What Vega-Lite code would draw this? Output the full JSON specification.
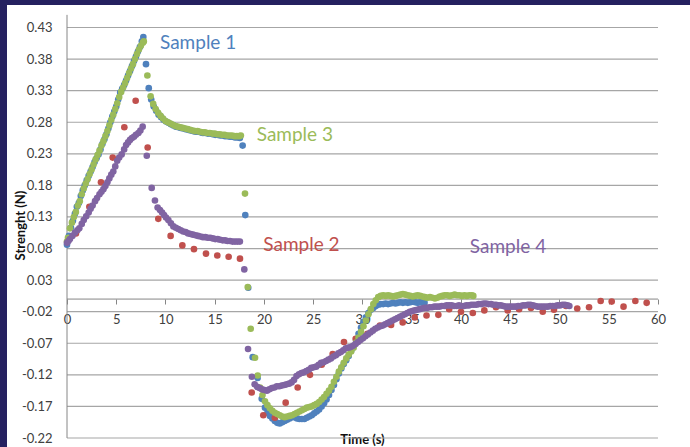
{
  "$schema": "https://vega.github.io/schema/vega-lite/v6.json",
  "width": 683,
  "height": 442,
  "autosize": {"type": "none"},
  "padding": {"left": 7, "top": 5, "right": 0, "bottom": 0},
  "background": "#252160",
  "view": {"fill": "white", "stroke": null},
  "config": {"font": "Lato", "axis": {"labelOverlap": false, "labelFlush": false}},
  "resolve": {"axis": {"x": "independent", "y": "independent"}},
  "datasets": {
    "pts": [
      {"s":1,"x":0.0,"y":0.086},{"s":1,"x":0.2,"y":0.100},{"s":1,"x":0.4,"y":0.113},{"s":1,"x":0.6,"y":0.124},{"s":1,"x":0.8,"y":0.135},
      {"s":1,"x":1.0,"y":0.146},{"s":1,"x":1.2,"y":0.152},{"s":1,"x":1.4,"y":0.163},{"s":1,"x":1.6,"y":0.172},{"s":1,"x":1.8,"y":0.180},
      {"s":1,"x":2.0,"y":0.188},{"s":1,"x":2.2,"y":0.195},{"s":1,"x":2.4,"y":0.202},{"s":1,"x":2.6,"y":0.209},{"s":1,"x":2.8,"y":0.217},
      {"s":1,"x":3.0,"y":0.223},{"s":1,"x":3.2,"y":0.229},{"s":1,"x":3.4,"y":0.237},{"s":1,"x":3.6,"y":0.246},{"s":1,"x":3.8,"y":0.253},
      {"s":1,"x":4.0,"y":0.261},{"s":1,"x":4.2,"y":0.270},{"s":1,"x":4.4,"y":0.280},{"s":1,"x":4.6,"y":0.289},{"s":1,"x":4.8,"y":0.297},
      {"s":1,"x":5.0,"y":0.305},{"s":1,"x":5.2,"y":0.316},{"s":1,"x":5.4,"y":0.327},{"s":1,"x":5.6,"y":0.333},{"s":1,"x":5.8,"y":0.339},
      {"s":1,"x":6.0,"y":0.346},{"s":1,"x":6.2,"y":0.354},{"s":1,"x":6.4,"y":0.361},{"s":1,"x":6.6,"y":0.369},{"s":1,"x":6.8,"y":0.377},
      {"s":1,"x":7.0,"y":0.384},{"s":1,"x":7.2,"y":0.392},{"s":1,"x":7.4,"y":0.399},{"s":1,"x":7.6,"y":0.408},{"s":1,"x":7.75,"y":0.415},
      {"s":1,"x":8.02,"y":0.372},{"s":1,"x":8.3,"y":0.334},{"s":1,"x":8.55,"y":0.316},{"s":1,"x":8.8,"y":0.305},{"s":1,"x":9.05,"y":0.298},
      {"s":1,"x":9.3,"y":0.292},{"s":1,"x":9.55,"y":0.288},{"s":1,"x":9.8,"y":0.284},{"s":1,"x":10.05,"y":0.281},{"s":1,"x":10.3,"y":0.279},
      {"s":1,"x":10.55,"y":0.277},{"s":1,"x":10.8,"y":0.275},{"s":1,"x":11.05,"y":0.273},{"s":1,"x":11.3,"y":0.272},{"s":1,"x":11.55,"y":0.271},
      {"s":1,"x":11.8,"y":0.270},{"s":1,"x":12.05,"y":0.269},{"s":1,"x":12.3,"y":0.268},{"s":1,"x":12.55,"y":0.267},{"s":1,"x":12.8,"y":0.266},
      {"s":1,"x":13.05,"y":0.265},{"s":1,"x":13.3,"y":0.265},{"s":1,"x":13.55,"y":0.264},{"s":1,"x":13.8,"y":0.263},{"s":1,"x":14.05,"y":0.263},
      {"s":1,"x":14.3,"y":0.262},{"s":1,"x":14.55,"y":0.262},{"s":1,"x":14.8,"y":0.261},{"s":1,"x":15.05,"y":0.260},{"s":1,"x":15.3,"y":0.260},
      {"s":1,"x":15.55,"y":0.259},{"s":1,"x":15.8,"y":0.259},{"s":1,"x":16.05,"y":0.258},{"s":1,"x":16.3,"y":0.258},{"s":1,"x":16.55,"y":0.257},
      {"s":1,"x":16.8,"y":0.257},{"s":1,"x":17.05,"y":0.256},{"s":1,"x":17.3,"y":0.256},{"s":1,"x":17.55,"y":0.255},{"s":1,"x":17.83,"y":0.243},
      {"s":1,"x":18.1,"y":0.133},{"s":1,"x":18.4,"y":0.018},{"s":1,"x":18.85,"y":-0.092},{"s":1,"x":19.35,"y":-0.125},{"s":1,"x":19.77,"y":-0.158},
      {"s":1,"x":20.1,"y":-0.172},{"s":1,"x":20.35,"y":-0.180},{"s":1,"x":20.6,"y":-0.185},{"s":1,"x":20.85,"y":-0.189},{"s":1,"x":21.1,"y":-0.193},
      {"s":1,"x":21.35,"y":-0.196},{"s":1,"x":21.6,"y":-0.197},{"s":1,"x":21.85,"y":-0.195},{"s":1,"x":22.1,"y":-0.193},{"s":1,"x":22.35,"y":-0.191},
      {"s":1,"x":22.6,"y":-0.189},{"s":1,"x":22.85,"y":-0.187},{"s":1,"x":23.1,"y":-0.187},{"s":1,"x":23.35,"y":-0.189},{"s":1,"x":23.6,"y":-0.190},
      {"s":1,"x":23.85,"y":-0.190},{"s":1,"x":24.1,"y":-0.190},{"s":1,"x":24.35,"y":-0.188},{"s":1,"x":24.6,"y":-0.186},{"s":1,"x":24.85,"y":-0.184},
      {"s":1,"x":25.1,"y":-0.181},{"s":1,"x":25.35,"y":-0.178},{"s":1,"x":25.6,"y":-0.175},{"s":1,"x":25.85,"y":-0.170},{"s":1,"x":26.1,"y":-0.165},
      {"s":1,"x":26.35,"y":-0.159},{"s":1,"x":26.6,"y":-0.152},{"s":1,"x":26.85,"y":-0.144},{"s":1,"x":27.1,"y":-0.136},{"s":1,"x":27.35,"y":-0.127},
      {"s":1,"x":27.6,"y":-0.118},{"s":1,"x":27.85,"y":-0.110},{"s":1,"x":28.1,"y":-0.103},{"s":1,"x":28.35,"y":-0.097},{"s":1,"x":28.6,"y":-0.090},
      {"s":1,"x":28.85,"y":-0.082},{"s":1,"x":29.1,"y":-0.074},{"s":1,"x":29.35,"y":-0.065},{"s":1,"x":29.6,"y":-0.055},{"s":1,"x":29.85,"y":-0.045},
      {"s":1,"x":30.1,"y":-0.036},{"s":1,"x":30.35,"y":-0.029},{"s":1,"x":30.6,"y":-0.022},{"s":1,"x":30.85,"y":-0.017},{"s":1,"x":31.1,"y":-0.014},
      {"s":1,"x":31.35,"y":-0.011},{"s":1,"x":31.6,"y":-0.009},{"s":1,"x":31.85,"y":-0.008},{"s":1,"x":32.1,"y":-0.008},{"s":1,"x":32.35,"y":-0.007},
      {"s":1,"x":32.6,"y":-0.008},{"s":1,"x":32.85,"y":-0.007},{"s":1,"x":33.1,"y":-0.006},{"s":1,"x":33.35,"y":-0.007},{"s":1,"x":33.6,"y":-0.006},
      {"s":1,"x":33.85,"y":-0.005},{"s":1,"x":34.1,"y":-0.006},{"s":1,"x":34.35,"y":-0.005},{"s":1,"x":34.6,"y":-0.006},{"s":1,"x":34.85,"y":-0.005},
      {"s":1,"x":35.1,"y":-0.004},{"s":1,"x":35.35,"y":-0.005},{"s":1,"x":35.6,"y":-0.006},{"s":1,"x":35.85,"y":-0.005},{"s":1,"x":36.1,"y":-0.006},
      {"s":1,"x":36.3,"y":-0.006},

      {"s":2,"x":0.91,"y":0.104},{"s":2,"x":2.27,"y":0.146},{"s":2,"x":3.45,"y":0.185},{"s":2,"x":4.64,"y":0.224},{"s":2,"x":5.82,"y":0.272},
      {"s":2,"x":6.97,"y":0.314},{"s":2,"x":8.19,"y":0.240},{"s":2,"x":9.27,"y":0.127},{"s":2,"x":10.52,"y":0.100},{"s":2,"x":11.71,"y":0.085},
      {"s":2,"x":12.89,"y":0.079},{"s":2,"x":14.11,"y":0.072},{"s":2,"x":15.26,"y":0.069},{"s":2,"x":16.41,"y":0.067},{"s":2,"x":17.56,"y":0.064},
      {"s":2,"x":18.75,"y":-0.148},{"s":2,"x":19.93,"y":-0.184},{"s":2,"x":21.1,"y":-0.188},{"s":2,"x":22.2,"y":-0.164},{"s":2,"x":23.42,"y":-0.140},
      {"s":2,"x":24.67,"y":-0.120},{"s":2,"x":25.86,"y":-0.104},{"s":2,"x":26.97,"y":-0.087},{"s":2,"x":28.12,"y":-0.068},{"s":2,"x":29.31,"y":-0.063},
      {"s":2,"x":30.5,"y":-0.055},{"s":2,"x":31.77,"y":-0.042},{"s":2,"x":32.9,"y":-0.041},{"s":2,"x":34.08,"y":-0.037},{"s":2,"x":35.3,"y":-0.029},
      {"s":2,"x":36.5,"y":-0.026},{"s":2,"x":37.7,"y":-0.025},{"s":2,"x":38.8,"y":-0.016},{"s":2,"x":40.0,"y":-0.020},{"s":2,"x":41.2,"y":-0.022},
      {"s":2,"x":42.37,"y":-0.018},{"s":2,"x":43.55,"y":-0.013},{"s":2,"x":44.74,"y":-0.018},{"s":2,"x":45.9,"y":-0.016},{"s":2,"x":47.1,"y":-0.014},
      {"s":2,"x":48.3,"y":-0.020},{"s":2,"x":49.44,"y":-0.017},{"s":2,"x":50.66,"y":-0.011},{"s":2,"x":51.8,"y":-0.015},{"s":2,"x":53.0,"y":-0.013},
      {"s":2,"x":54.18,"y":-0.003},{"s":2,"x":55.3,"y":-0.004},{"s":2,"x":56.5,"y":-0.012},{"s":2,"x":57.7,"y":-0.003},{"s":2,"x":58.85,"y":-0.006},

      {"s":3,"x":0.0,"y":0.091},{"s":3,"x":0.1,"y":0.097},{"s":3,"x":0.3,"y":0.112},{"s":3,"x":0.5,"y":0.121},{"s":3,"x":0.7,"y":0.130},
      {"s":3,"x":0.9,"y":0.138},{"s":3,"x":1.1,"y":0.148},{"s":3,"x":1.3,"y":0.155},{"s":3,"x":1.5,"y":0.166},{"s":3,"x":1.7,"y":0.175},
      {"s":3,"x":1.9,"y":0.183},{"s":3,"x":2.1,"y":0.190},{"s":3,"x":2.3,"y":0.198},{"s":3,"x":2.5,"y":0.205},{"s":3,"x":2.7,"y":0.213},
      {"s":3,"x":2.9,"y":0.221},{"s":3,"x":3.1,"y":0.228},{"s":3,"x":3.3,"y":0.235},{"s":3,"x":3.5,"y":0.243},{"s":3,"x":3.7,"y":0.250},
      {"s":3,"x":3.9,"y":0.258},{"s":3,"x":4.1,"y":0.266},{"s":3,"x":4.3,"y":0.275},{"s":3,"x":4.5,"y":0.284},{"s":3,"x":4.7,"y":0.292},
      {"s":3,"x":4.9,"y":0.301},{"s":3,"x":5.1,"y":0.310},{"s":3,"x":5.3,"y":0.320},{"s":3,"x":5.5,"y":0.328},{"s":3,"x":5.7,"y":0.335},
      {"s":3,"x":5.9,"y":0.342},{"s":3,"x":6.1,"y":0.350},{"s":3,"x":6.3,"y":0.358},{"s":3,"x":6.5,"y":0.365},{"s":3,"x":6.7,"y":0.372},
      {"s":3,"x":6.9,"y":0.380},{"s":3,"x":7.1,"y":0.388},{"s":3,"x":7.3,"y":0.395},{"s":3,"x":7.5,"y":0.401},{"s":3,"x":7.7,"y":0.406},
      {"s":3,"x":7.8,"y":0.408},{"s":3,"x":8.16,"y":0.354},{"s":3,"x":8.49,"y":0.321},{"s":3,"x":8.75,"y":0.309},{"s":3,"x":9.0,"y":0.301},
      {"s":3,"x":9.25,"y":0.295},{"s":3,"x":9.5,"y":0.290},{"s":3,"x":9.75,"y":0.286},{"s":3,"x":10.0,"y":0.282},{"s":3,"x":10.25,"y":0.280},
      {"s":3,"x":10.5,"y":0.278},{"s":3,"x":10.75,"y":0.276},{"s":3,"x":11.0,"y":0.274},{"s":3,"x":11.25,"y":0.273},{"s":3,"x":11.5,"y":0.272},
      {"s":3,"x":11.75,"y":0.271},{"s":3,"x":12.0,"y":0.270},{"s":3,"x":12.25,"y":0.269},{"s":3,"x":12.5,"y":0.268},{"s":3,"x":12.75,"y":0.267},
      {"s":3,"x":13.0,"y":0.266},{"s":3,"x":13.25,"y":0.266},{"s":3,"x":13.5,"y":0.265},{"s":3,"x":13.75,"y":0.264},{"s":3,"x":14.0,"y":0.264},
      {"s":3,"x":14.25,"y":0.263},{"s":3,"x":14.5,"y":0.263},{"s":3,"x":14.75,"y":0.262},{"s":3,"x":15.0,"y":0.262},{"s":3,"x":15.25,"y":0.261},
      {"s":3,"x":15.5,"y":0.261},{"s":3,"x":15.75,"y":0.260},{"s":3,"x":16.0,"y":0.260},{"s":3,"x":16.25,"y":0.259},{"s":3,"x":16.5,"y":0.259},
      {"s":3,"x":16.75,"y":0.259},{"s":3,"x":17.0,"y":0.258},{"s":3,"x":17.25,"y":0.258},{"s":3,"x":17.5,"y":0.258},{"s":3,"x":17.65,"y":0.259},
      {"s":3,"x":18.07,"y":0.167},{"s":3,"x":18.35,"y":0.019},{"s":3,"x":18.65,"y":-0.047},{"s":3,"x":19.09,"y":-0.093},{"s":3,"x":19.36,"y":-0.121},
      {"s":3,"x":19.6,"y":-0.140},{"s":3,"x":19.85,"y":-0.152},{"s":3,"x":20.1,"y":-0.162},{"s":3,"x":20.35,"y":-0.168},{"s":3,"x":20.6,"y":-0.173},
      {"s":3,"x":20.85,"y":-0.177},{"s":3,"x":21.1,"y":-0.180},{"s":3,"x":21.35,"y":-0.182},{"s":3,"x":21.6,"y":-0.184},{"s":3,"x":21.85,"y":-0.186},
      {"s":3,"x":22.1,"y":-0.187},{"s":3,"x":22.35,"y":-0.186},{"s":3,"x":22.6,"y":-0.185},{"s":3,"x":22.85,"y":-0.184},{"s":3,"x":23.1,"y":-0.182},
      {"s":3,"x":23.35,"y":-0.180},{"s":3,"x":23.6,"y":-0.178},{"s":3,"x":23.85,"y":-0.176},{"s":3,"x":24.1,"y":-0.174},{"s":3,"x":24.35,"y":-0.172},
      {"s":3,"x":24.6,"y":-0.171},{"s":3,"x":24.85,"y":-0.170},{"s":3,"x":25.1,"y":-0.168},{"s":3,"x":25.35,"y":-0.166},{"s":3,"x":25.6,"y":-0.163},
      {"s":3,"x":25.85,"y":-0.159},{"s":3,"x":26.1,"y":-0.155},{"s":3,"x":26.35,"y":-0.150},{"s":3,"x":26.6,"y":-0.145},{"s":3,"x":26.85,"y":-0.139},
      {"s":3,"x":27.1,"y":-0.131},{"s":3,"x":27.35,"y":-0.123},{"s":3,"x":27.6,"y":-0.115},{"s":3,"x":27.85,"y":-0.108},{"s":3,"x":28.1,"y":-0.101},
      {"s":3,"x":28.35,"y":-0.094},{"s":3,"x":28.6,"y":-0.088},{"s":3,"x":28.85,"y":-0.083},{"s":3,"x":29.1,"y":-0.077},{"s":3,"x":29.35,"y":-0.069},
      {"s":3,"x":29.6,"y":-0.061},{"s":3,"x":29.85,"y":-0.052},{"s":3,"x":30.1,"y":-0.043},{"s":3,"x":30.35,"y":-0.034},{"s":3,"x":30.6,"y":-0.024},
      {"s":3,"x":30.85,"y":-0.016},{"s":3,"x":31.1,"y":-0.008},{"s":3,"x":31.35,"y":-0.002},{"s":3,"x":31.6,"y":0.003},{"s":3,"x":31.85,"y":0.005},
      {"s":3,"x":32.1,"y":0.006},{"s":3,"x":32.35,"y":0.005},{"s":3,"x":32.6,"y":0.006},{"s":3,"x":32.85,"y":0.005},{"s":3,"x":33.1,"y":0.004},
      {"s":3,"x":33.35,"y":0.005},{"s":3,"x":33.6,"y":0.006},{"s":3,"x":33.85,"y":0.007},{"s":3,"x":34.1,"y":0.008},{"s":3,"x":34.35,"y":0.007},
      {"s":3,"x":34.6,"y":0.006},{"s":3,"x":34.85,"y":0.005},{"s":3,"x":35.1,"y":0.004},{"s":3,"x":35.35,"y":0.005},{"s":3,"x":35.6,"y":0.006},
      {"s":3,"x":35.85,"y":0.005},{"s":3,"x":36.1,"y":0.004},{"s":3,"x":36.35,"y":0.003},{"s":3,"x":36.6,"y":0.002},{"s":3,"x":36.85,"y":0.003},
      {"s":3,"x":37.1,"y":0.002},{"s":3,"x":37.35,"y":0.001},{"s":3,"x":37.6,"y":0.002},{"s":3,"x":37.85,"y":0.004},{"s":3,"x":38.1,"y":0.005},
      {"s":3,"x":38.35,"y":0.006},{"s":3,"x":38.6,"y":0.006},{"s":3,"x":38.85,"y":0.005},{"s":3,"x":39.1,"y":0.006},{"s":3,"x":39.35,"y":0.007},
      {"s":3,"x":39.6,"y":0.006},{"s":3,"x":39.85,"y":0.006},{"s":3,"x":40.1,"y":0.005},{"s":3,"x":40.35,"y":0.006},{"s":3,"x":40.6,"y":0.005},
      {"s":3,"x":40.85,"y":0.006},{"s":3,"x":41.1,"y":0.006},{"s":3,"x":41.25,"y":0.005},

      {"s":4,"x":0.0,"y":0.089},{"s":4,"x":0.15,"y":0.092},{"s":4,"x":0.3,"y":0.095},{"s":4,"x":0.55,"y":0.100},{"s":4,"x":0.8,"y":0.105},
      {"s":4,"x":1.05,"y":0.109},{"s":4,"x":1.25,"y":0.112},{"s":4,"x":1.5,"y":0.119},{"s":4,"x":1.7,"y":0.125},{"s":4,"x":1.95,"y":0.131},
      {"s":4,"x":2.2,"y":0.137},{"s":4,"x":2.4,"y":0.143},{"s":4,"x":2.6,"y":0.148},{"s":4,"x":2.85,"y":0.155},{"s":4,"x":3.05,"y":0.160},
      {"s":4,"x":3.3,"y":0.166},{"s":4,"x":3.5,"y":0.170},{"s":4,"x":3.7,"y":0.174},{"s":4,"x":3.9,"y":0.179},{"s":4,"x":4.1,"y":0.185},
      {"s":4,"x":4.3,"y":0.191},{"s":4,"x":4.5,"y":0.197},{"s":4,"x":4.7,"y":0.202},{"s":4,"x":4.9,"y":0.210},{"s":4,"x":5.1,"y":0.219},
      {"s":4,"x":5.3,"y":0.224},{"s":4,"x":5.55,"y":0.229},{"s":4,"x":5.8,"y":0.237},{"s":4,"x":6.0,"y":0.244},{"s":4,"x":6.2,"y":0.248},
      {"s":4,"x":6.4,"y":0.252},{"s":4,"x":6.6,"y":0.255},{"s":4,"x":6.8,"y":0.257},{"s":4,"x":7.0,"y":0.260},{"s":4,"x":7.25,"y":0.263},
      {"s":4,"x":7.45,"y":0.267},{"s":4,"x":7.68,"y":0.273},{"s":4,"x":8.1,"y":0.227},{"s":4,"x":8.6,"y":0.176},{"s":4,"x":8.93,"y":0.156},
      {"s":4,"x":9.2,"y":0.145},{"s":4,"x":9.44,"y":0.141},{"s":4,"x":9.65,"y":0.137},{"s":4,"x":9.85,"y":0.133},{"s":4,"x":10.05,"y":0.129},
      {"s":4,"x":10.29,"y":0.125},{"s":4,"x":10.55,"y":0.120},{"s":4,"x":10.8,"y":0.115},{"s":4,"x":11.05,"y":0.113},{"s":4,"x":11.3,"y":0.111},
      {"s":4,"x":11.55,"y":0.109},{"s":4,"x":11.8,"y":0.107},{"s":4,"x":12.05,"y":0.106},{"s":4,"x":12.3,"y":0.104},{"s":4,"x":12.55,"y":0.103},
      {"s":4,"x":12.8,"y":0.102},{"s":4,"x":13.05,"y":0.101},{"s":4,"x":13.3,"y":0.100},{"s":4,"x":13.55,"y":0.099},{"s":4,"x":13.8,"y":0.098},
      {"s":4,"x":14.05,"y":0.098},{"s":4,"x":14.3,"y":0.097},{"s":4,"x":14.55,"y":0.097},{"s":4,"x":14.8,"y":0.096},{"s":4,"x":15.05,"y":0.095},
      {"s":4,"x":15.3,"y":0.095},{"s":4,"x":15.55,"y":0.094},{"s":4,"x":15.8,"y":0.093},{"s":4,"x":16.05,"y":0.093},{"s":4,"x":16.3,"y":0.092},
      {"s":4,"x":16.55,"y":0.092},{"s":4,"x":16.8,"y":0.091},{"s":4,"x":17.05,"y":0.091},{"s":4,"x":17.3,"y":0.091},{"s":4,"x":17.55,"y":0.091},
      {"s":4,"x":18.0,"y":0.047},{"s":4,"x":18.38,"y":-0.079},{"s":4,"x":18.77,"y":-0.123},{"s":4,"x":19.05,"y":-0.135},{"s":4,"x":19.3,"y":-0.139},
      {"s":4,"x":19.55,"y":-0.141},{"s":4,"x":19.8,"y":-0.143},{"s":4,"x":20.05,"y":-0.144},{"s":4,"x":20.3,"y":-0.145},{"s":4,"x":20.55,"y":-0.143},
      {"s":4,"x":20.8,"y":-0.141},{"s":4,"x":21.05,"y":-0.140},{"s":4,"x":21.3,"y":-0.138},{"s":4,"x":21.55,"y":-0.138},{"s":4,"x":21.8,"y":-0.137},
      {"s":4,"x":22.05,"y":-0.136},{"s":4,"x":22.3,"y":-0.135},{"s":4,"x":22.55,"y":-0.134},{"s":4,"x":22.8,"y":-0.132},{"s":4,"x":23.05,"y":-0.128},
      {"s":4,"x":23.3,"y":-0.122},{"s":4,"x":23.55,"y":-0.119},{"s":4,"x":23.8,"y":-0.117},{"s":4,"x":24.05,"y":-0.116},{"s":4,"x":24.3,"y":-0.114},
      {"s":4,"x":24.55,"y":-0.112},{"s":4,"x":24.8,"y":-0.109},{"s":4,"x":25.05,"y":-0.108},{"s":4,"x":25.3,"y":-0.107},{"s":4,"x":25.55,"y":-0.104},
      {"s":4,"x":25.8,"y":-0.101},{"s":4,"x":26.05,"y":-0.100},{"s":4,"x":26.3,"y":-0.098},{"s":4,"x":26.55,"y":-0.096},{"s":4,"x":26.8,"y":-0.094},
      {"s":4,"x":27.05,"y":-0.091},{"s":4,"x":27.3,"y":-0.089},{"s":4,"x":27.55,"y":-0.086},{"s":4,"x":27.8,"y":-0.084},{"s":4,"x":28.05,"y":-0.081},
      {"s":4,"x":28.3,"y":-0.078},{"s":4,"x":28.55,"y":-0.077},{"s":4,"x":28.8,"y":-0.076},{"s":4,"x":29.05,"y":-0.074},{"s":4,"x":29.3,"y":-0.071},
      {"s":4,"x":29.55,"y":-0.068},{"s":4,"x":29.8,"y":-0.065},{"s":4,"x":30.05,"y":-0.062},{"s":4,"x":30.3,"y":-0.059},{"s":4,"x":30.55,"y":-0.056},
      {"s":4,"x":30.8,"y":-0.053},{"s":4,"x":31.05,"y":-0.050},{"s":4,"x":31.3,"y":-0.047},{"s":4,"x":31.55,"y":-0.045},{"s":4,"x":31.8,"y":-0.043},
      {"s":4,"x":32.05,"y":-0.042},{"s":4,"x":32.3,"y":-0.040},{"s":4,"x":32.55,"y":-0.038},{"s":4,"x":32.8,"y":-0.036},{"s":4,"x":33.05,"y":-0.034},
      {"s":4,"x":33.3,"y":-0.032},{"s":4,"x":33.55,"y":-0.030},{"s":4,"x":33.8,"y":-0.028},{"s":4,"x":34.05,"y":-0.026},{"s":4,"x":34.3,"y":-0.024},
      {"s":4,"x":34.55,"y":-0.022},{"s":4,"x":34.8,"y":-0.020},{"s":4,"x":35.05,"y":-0.019},{"s":4,"x":35.3,"y":-0.018},{"s":4,"x":35.55,"y":-0.017},
      {"s":4,"x":35.8,"y":-0.016},{"s":4,"x":36.05,"y":-0.015},{"s":4,"x":36.3,"y":-0.014},{"s":4,"x":36.55,"y":-0.014},{"s":4,"x":36.8,"y":-0.013},
      {"s":4,"x":37.05,"y":-0.013},{"s":4,"x":37.3,"y":-0.012},{"s":4,"x":37.55,"y":-0.012},{"s":4,"x":37.8,"y":-0.012},{"s":4,"x":38.05,"y":-0.011},
      {"s":4,"x":38.3,"y":-0.011},{"s":4,"x":38.55,"y":-0.010},{"s":4,"x":38.8,"y":-0.010},{"s":4,"x":39.05,"y":-0.010},{"s":4,"x":39.3,"y":-0.011},
      {"s":4,"x":39.55,"y":-0.011},{"s":4,"x":39.8,"y":-0.010},{"s":4,"x":40.05,"y":-0.011},{"s":4,"x":40.3,"y":-0.011},{"s":4,"x":40.55,"y":-0.010},
      {"s":4,"x":40.8,"y":-0.010},{"s":4,"x":41.05,"y":-0.009},{"s":4,"x":41.3,"y":-0.009},{"s":4,"x":41.55,"y":-0.009},{"s":4,"x":41.8,"y":-0.008},
      {"s":4,"x":42.05,"y":-0.008},{"s":4,"x":42.3,"y":-0.007},{"s":4,"x":42.55,"y":-0.007},{"s":4,"x":42.8,"y":-0.008},{"s":4,"x":43.05,"y":-0.008},
      {"s":4,"x":43.3,"y":-0.009},{"s":4,"x":43.55,"y":-0.009},{"s":4,"x":43.8,"y":-0.010},{"s":4,"x":44.05,"y":-0.010},{"s":4,"x":44.3,"y":-0.011},
      {"s":4,"x":44.55,"y":-0.012},{"s":4,"x":44.8,"y":-0.012},{"s":4,"x":45.05,"y":-0.012},{"s":4,"x":45.3,"y":-0.012},{"s":4,"x":45.55,"y":-0.012},
      {"s":4,"x":45.8,"y":-0.011},{"s":4,"x":46.05,"y":-0.011},{"s":4,"x":46.3,"y":-0.010},{"s":4,"x":46.55,"y":-0.010},{"s":4,"x":46.8,"y":-0.009},
      {"s":4,"x":47.05,"y":-0.009},{"s":4,"x":47.3,"y":-0.010},{"s":4,"x":47.55,"y":-0.011},{"s":4,"x":47.8,"y":-0.012},{"s":4,"x":48.05,"y":-0.012},
      {"s":4,"x":48.3,"y":-0.012},{"s":4,"x":48.55,"y":-0.012},{"s":4,"x":48.8,"y":-0.012},{"s":4,"x":49.05,"y":-0.011},{"s":4,"x":49.3,"y":-0.011},
      {"s":4,"x":49.55,"y":-0.011},{"s":4,"x":49.8,"y":-0.010},{"s":4,"x":50.05,"y":-0.010},{"s":4,"x":50.3,"y":-0.009},{"s":4,"x":50.55,"y":-0.009},
      {"s":4,"x":50.8,"y":-0.010},{"s":4,"x":51.0,"y":-0.011}
    ]
  },
  "layer": [
    {
      "data": {"values": [{"g":0.43},{"g":0.38},{"g":0.33},{"g":0.28},{"g":0.23},{"g":0.18},{"g":0.13},{"g":0.08},{"g":0.03},{"g":-0.02},{"g":-0.07},{"g":-0.12},{"g":-0.17},{"g":-0.22}]},
      "mark": {"type": "rule", "color": "#a6a6a6", "strokeWidth": 1.2},
      "encoding": {
        "y": {"field": "g", "type": "quantitative", "axis": null, "scale": {"domain": [-0.23425, 0.46563], "nice": false, "zero": false}},
        "x": {"datum": 0, "type": "quantitative", "axis": null, "scale": {"domain": [-6.0914, 63.249], "nice": false, "zero": false}},
        "x2": {"datum": 60}
      }
    },
    {
      "data": {"values": [{}]},
      "mark": {"type": "rule", "color": "#868686", "strokeWidth": 1},
      "encoding": {
        "x": {"datum": 0, "type": "quantitative", "axis": null},
        "y": {"datum": -0.22, "type": "quantitative", "axis": null},
        "y2": {"datum": 0.45}
      }
    },
    {
      "data": {"values": [{}]},
      "mark": {"type": "rule", "color": "#868686", "strokeWidth": 1},
      "encoding": {
        "y": {"datum": 0, "type": "quantitative", "axis": null},
        "x": {"datum": 0, "type": "quantitative", "axis": null},
        "x2": {"datum": 60}
      }
    },
    {
      "data": {"name": "pts"},
      "mark": {"type": "point", "filled": true, "size": 44, "opacity": 1},
      "encoding": {
        "x": {
          "field": "x", "type": "quantitative",
          "scale": {"domain": [-6.0914, 63.249], "nice": false, "zero": false},
          "axis": {
            "orient": "bottom", "offset": -148,
            "values": [0,5,10,15,20,25,30,35,40,45,50,55,60],
            "domain": false, "grid": false,
            "ticks": true, "tickSize": 5, "tickColor": "#868686", "tickWidth": 1,
            "labelFont": "Lato", "labelFontSize": 13, "labelColor": "#404040",
            "labelPadding": 19.5, "labelBaseline": "alphabetic", "labelFlush": false, "labelOverlap": false,
            "title": "Time (s)", "titleFont": "Lato", "titleFontSize": 13, "titleFontWeight": "bold", "titleColor": "#111111",
            "titleX": 355, "titleY": 144.5, "titleBaseline": "alphabetic", "titleAlign": "center", "titleAnchor": "start"
          }
        },
        "y": {
          "field": "y", "type": "quantitative",
          "scale": {"domain": [-0.23425, 0.46563], "nice": false, "zero": false},
          "axis": {
            "orient": "left", "offset": -60,
            "values": [0.43,0.38,0.33,0.28,0.23,0.18,0.13,0.08,0.03,-0.02,-0.07,-0.12,-0.17,-0.22],
            "labelExpr": "replace(format(datum.value, '.2f'), '\u2212', '-')",
            "domain": false, "grid": false, "ticks": false, "tickSize": 0,
            "labelFont": "Lato", "labelFontSize": 13, "labelColor": "#404040", "labelPadding": 15, "labelOverlap": false, "labelFlush": false,
            "title": "Strenght (N)", "titleFont": "Lato", "titleFontSize": 13, "titleFontWeight": "bold", "titleColor": "#111111",
            "titleX": -47, "titleY": 220, "titleAngle": -90, "titleAlign": "center", "titleBaseline": "middle", "titleAnchor": "start"
          }
        },
        "color": {
          "field": "s", "type": "nominal",
          "scale": {"domain": [1,2,3,4], "range": ["#4F81BD","#C0504D","#9BBB59","#8064A2"]},
          "legend": null
        }
      }
    },
    {
      "data": {"values": [
        {"t":"Sample 1","s":1,"x":9.44,"y":0.4055},
        {"t":"Sample 3","s":3,"x":19.26,"y":0.260},
        {"t":"Sample 2","s":2,"x":19.93,"y":0.086},
        {"t":"Sample 4","s":4,"x":40.9,"y":0.083}
      ]},
      "mark": {"type": "text", "font": "Lato", "fontSize": 19, "align": "left", "baseline": "middle"},
      "encoding": {
        "x": {"field": "x", "type": "quantitative", "axis": null},
        "y": {"field": "y", "type": "quantitative", "axis": null},
        "text": {"field": "t"},
        "color": {"field": "s", "type": "nominal", "legend": null}
      }
    }
  ]
}
